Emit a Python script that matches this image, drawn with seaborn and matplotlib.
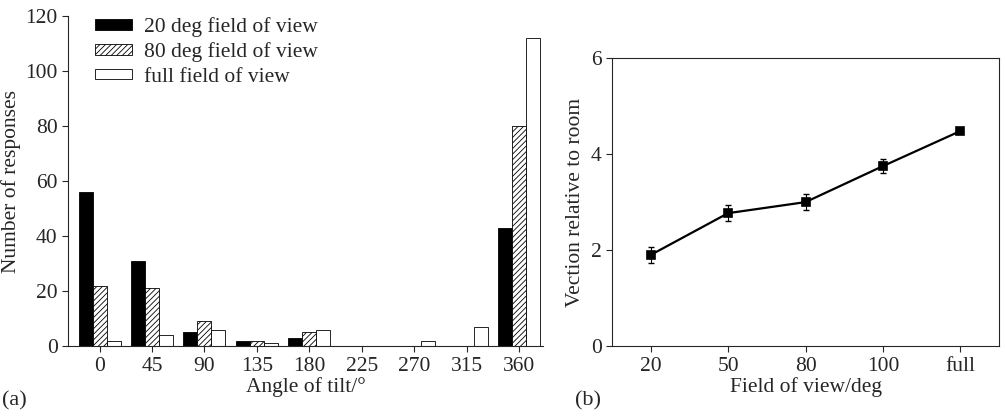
import pandas as pd
import matplotlib
matplotlib.use("Agg")
import matplotlib.pyplot as plt
import seaborn as sns

# panel (a): responses per tilt angle
angles = ["0", "45", "90", "135", "180", "225", "270", "315", "360"]
fov_labels = ["20 deg field of view", "80 deg field of view", "full field of view"]
resp_20 = [56, 31, 5, 2, 3, 0, 0, 0, 43]
resp_80 = [22, 21, 9, 2, 5, 0, 0, 0, 80]
resp_full = [2, 4, 6, 1, 6, 0, 2, 7, 112]

# panel (b): vection vs field of view
fov_cats = ["20", "50", "80", "100", "full"]
vection = [1.9, 2.77, 3.0, 3.75, 4.48]
vection_err = [0.17, 0.17, 0.16, 0.15, 0.04]

sns.set_style("ticks")
plt.rcParams["font.family"] = ["Liberation Serif", "DejaVu Serif"]
plt.rcParams["font.size"] = 15.5
plt.rcParams["hatch.linewidth"] = 0.6
plt.rcParams["axes.linewidth"] = 0.8

hist_df = pd.DataFrame({
    "Angle": angles * 3,
    "Count": resp_20 + resp_80 + resp_full,
    "FOV": [fov_labels[0]] * 9 + [fov_labels[1]] * 9 + [fov_labels[2]] * 9,
})
line_df = pd.DataFrame({"FOV": fov_cats, "Vection": vection})

fig = plt.figure(figsize=(10.05, 4.16), dpi=100)
ax1 = fig.add_axes([0.0677, 0.168, 0.4726, 0.7933])
ax2 = fig.add_axes([0.609, 0.168, 0.385, 0.6923])

sns.barplot(data=hist_df, x="Angle", y="Count", hue="FOV", order=angles,
            hue_order=fov_labels, palette=["black", "white", "white"],
            edgecolor="black", linewidth=0.6, saturation=1, legend=False, ax=ax1)
for cont, hatch in zip(ax1.containers, ["", "//////", ""]):
    for bar in cont:
        bar.set_hatch(hatch)
ax1.legend(ax1.containers, fov_labels, loc="upper left", frameon=False,
           bbox_to_anchor=(0.056, 0.997), borderpad=0, borderaxespad=0,
           handlelength=1.72, handleheight=0.37, handletextpad=0.56,
           labelspacing=0.25)
ax1.set_ylim(0, 120)
ax1.set_xlim(-0.6, 8.45)
ax1.set_yticks([0, 20, 40, 60, 80, 100, 120])
ax1.set_xlabel("Angle of tilt/°", labelpad=1)
ax1.set_ylabel("Number of responses", labelpad=3)
sns.despine(ax=ax1)
ax1.tick_params(length=4, width=0.8)

sns.pointplot(data=line_df, x="FOV", y="Vection", order=fov_cats, color="black",
              markers="s", markersize=6, linewidth=1.6, errorbar=None, ax=ax2)
ax2.errorbar(range(len(fov_cats)), vection, yerr=vection_err, fmt="none",
             ecolor="black", elinewidth=0.8, capsize=2.5)
ax2.set_ylim(0, 6)
ax2.set_xlim(-0.5, 4.5)
ax2.set_yticks([0, 2, 4, 6])
ax2.set_xlabel("Field of view/deg", labelpad=1)
ax2.set_ylabel("Vection relative to room", labelpad=4)
ax2.tick_params(length=4, width=0.8)

fig.text(0.002, 0.025, "(a)", fontsize=16)
fig.text(0.572, 0.025, "(b)", fontsize=16)

fig.savefig("out.png", dpi=100)
